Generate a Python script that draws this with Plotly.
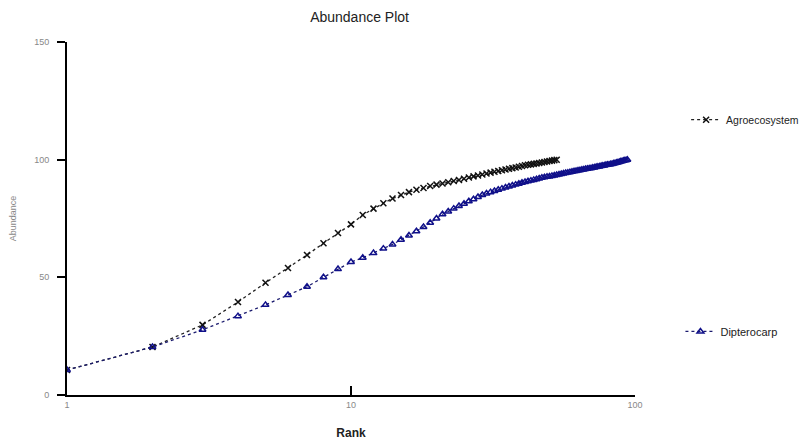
import plotly.graph_objects as go

agro_abund = [10.6, 20.4, 29.8, 39.5, 47.7, 54.0, 59.5, 64.5, 68.8, 72.5,
              76.5, 79.2, 81.5, 83.5, 85.0, 86.2, 87.2, 88.0, 88.8, 89.4,
              89.9, 90.4, 90.9, 91.4, 91.9, 92.4, 92.9, 93.3, 93.7, 94.1,
              94.5, 94.9, 95.2, 95.5, 95.8, 96.1, 96.4, 96.7, 97.0, 97.3,
              97.6, 97.8, 98.0, 98.2, 98.4, 98.6, 98.8, 99.0, 99.2, 99.4,
              99.6, 99.8, 100.0]
agro_rank = list(range(1, len(agro_abund) + 1))

dipt_abund = [10.6, 20.4, 27.7, 33.5, 38.3, 42.5, 46.0, 50.0, 53.5, 56.5,
              58.3, 60.3, 62.2, 64.0, 66.0, 67.8, 69.6, 71.4, 73.2, 75.0,
              76.8, 78.0, 79.2, 80.3, 81.3, 82.3, 83.2, 84.1, 85.0, 85.6,
              86.2, 86.7, 87.2, 87.7, 88.2, 88.6, 89.0, 89.4, 89.8, 90.2,
              90.5, 90.8, 91.1, 91.4, 91.7, 92.0, 92.3, 92.5, 92.7, 92.9,
              93.1, 93.3, 93.5, 93.7, 93.9, 94.1, 94.3, 94.5, 94.7, 94.9,
              95.1, 95.2, 95.4, 95.5, 95.7, 95.8, 96.0, 96.1, 96.3, 96.4,
              96.6, 96.7, 96.9, 97.0, 97.1, 97.3, 97.4, 97.5, 97.7, 97.8,
              97.9, 98.1, 98.2, 98.4, 98.5, 98.7, 98.8, 99.0, 99.2, 99.3,
              99.5, 99.7, 99.8, 100.0]
dipt_rank = list(range(1, len(dipt_abund) + 1))

x_ticks = [1, 10, 100]
x_labels = ["1", "10", "100"]
y_ticks = [0, 50, 100, 150]
y_labels = ["0", "50", "100", "150"]

fig = go.Figure()
fig.add_trace(go.Scatter(
    x=agro_rank, y=agro_abund, name="Agroecosystem", mode="lines+markers",
    line=dict(color="#222222", width=1.3, dash="dot"),
    marker=dict(symbol="x-thin-open", size=6, color="#111111",
                line=dict(width=1.5, color="#111111")),
    legend="legend"))
fig.add_trace(go.Scatter(
    x=dipt_rank, y=dipt_abund, name="Dipterocarp", mode="lines+markers",
    line=dict(color="#1a1a6e", width=1.3, dash="dot"),
    marker=dict(symbol="triangle-up-open", size=6, color="#10108a",
                line=dict(width=1.5, color="#10108a")),
    legend="legend2"))

fig.update_layout(
    width=799, height=437,
    margin=dict(l=59, r=172, t=34, b=50, autoexpand=False),
    paper_bgcolor="white", plot_bgcolor="white",
    font=dict(family="Liberation Sans, Arial, sans-serif", color="#222222"),
    title=dict(text="Abundance Plot", x=0.44, xanchor="center", y=0.99,
               yanchor="top", font=dict(size=14, color="#222222")),
    showlegend=True,
    legend=dict(x=1.09, y=0.78, xanchor="left", yanchor="middle", itemwidth=30,
                bgcolor="rgba(0,0,0,0)", font=dict(size=10.5, color="#222222")),
    legend2=dict(x=1.08, y=0.18, xanchor="left", yanchor="middle", itemwidth=30,
                 bgcolor="rgba(0,0,0,0)", font=dict(size=11, color="#222222")),
    xaxis=dict(type="log", range=[0, 2], tickvals=x_ticks, ticktext=x_labels,
               showgrid=False, zeroline=False, showline=True, linecolor="black",
               linewidth=2, ticks="inside", ticklen=9, tickwidth=2, tickcolor="black",
               tickfont=dict(size=9, color="#888888"), automargin=False,
               title=dict(text="<b>Rank</b>", font=dict(size=12, color="#222222"),
                          standoff=20)),
    yaxis=dict(range=[0, 150], tickvals=y_ticks, ticktext=y_labels,
               showgrid=False, zeroline=False, showline=True, linecolor="black",
               linewidth=2, ticks="outside", ticklen=8, tickwidth=2, tickcolor="black",
               tickfont=dict(size=9, color="#888888"), ticklabelstandoff=6,
               automargin=False,
               title=dict(text="Abundance", font=dict(size=9, color="#888888"),
                          standoff=18)),
)

fig.write_html("out.html")
